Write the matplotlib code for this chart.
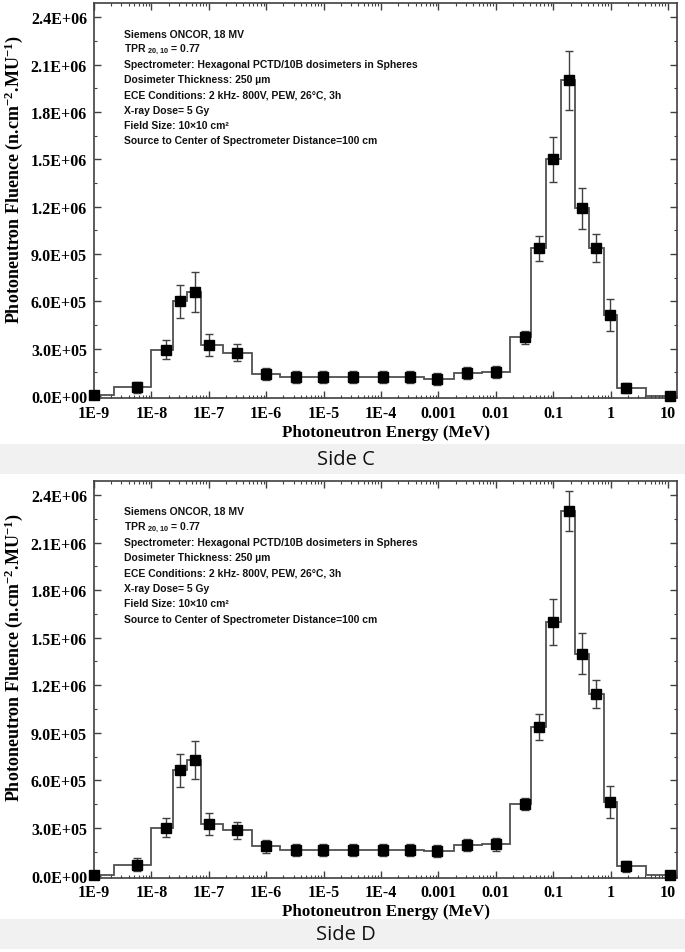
import numpy as np
import matplotlib
matplotlib.use("Agg")
import matplotlib.pyplot as plt
from matplotlib.ticker import FixedLocator, LogLocator, NullFormatter, FuncFormatter
from matplotlib.patches import Rectangle

plt.rcParams['mathtext.default'] = 'regular'

# ---- data ----
bin_edges = [1.0e-9, 2.26e-9, 1.0e-8, 2.35e-8, 4.12e-8, 7.4e-8, 1.75e-7, 5.6e-7, 1.74e-6,
             5.6e-6, 1.75e-5, 5.6e-5, 1.75e-4, 5.6e-4, 1.87e-3, 5.75e-3, 0.0177, 0.0415,
             0.075, 0.135, 0.239, 0.426, 0.767, 1.29, 4.2, 20.0]
marker_energy = [1.0e-9, 5.7e-9, 1.8e-8, 3.15e-8, 5.7e-8, 1.0e-7, 3.1e-7, 9.8e-7, 3.3e-6,
                 9.9e-6, 3.2e-5, 1.07e-4, 3.2e-4, 9.6e-4, 3.1e-3, 0.0101, 0.0326, 0.0558,
                 0.1, 0.186, 0.321, 0.557, 0.98, 1.83, 10.8]

fluence_c = [5e3, 5.5e4, 2.95e5, 6.0e5, 6.6e5, 3.25e5, 2.75e5, 1.40e5, 1.18e5, 1.18e5,
             1.18e5, 1.18e5, 1.18e5, 1.08e5, 1.45e5, 1.52e5, 3.72e5, 9.35e5, 1.50e6, 2.00e6,
             1.19e6, 9.38e5, 5.15e5, 5.0e4, 2e3]
error_c = [1e4, 3.7e4, 6.3e4, 1.05e5, 1.25e5, 7.1e4, 5.3e4, 3.9e4, 3.8e4, 3.8e4,
           3.8e4, 3.8e4, 3.8e4, 3.7e4, 3.9e4, 4.0e4, 3.9e4, 8.0e4, 1.43e5, 1.88e5,
           1.30e5, 8.6e4, 1.02e5, 3.0e4, 0]

fluence_d = [5e3, 6.8e4, 3.03e5, 6.64e5, 7.27e5, 3.25e5, 2.85e5, 1.85e5, 1.60e5, 1.60e5,
             1.60e5, 1.60e5, 1.60e5, 1.54e5, 1.92e5, 1.98e5, 4.50e5, 9.38e5, 1.60e6, 2.30e6,
             1.40e6, 1.145e6, 4.63e5, 5.8e4, 2e3]
error_d = [1e4, 4.0e4, 6.2e4, 1.04e5, 1.21e5, 7.1e4, 5.4e4, 4.0e4, 3.9e4, 3.9e4,
           3.9e4, 3.9e4, 3.9e4, 3.9e4, 4.0e4, 4.0e4, 3.8e4, 8.0e4, 1.44e5, 1.26e5,
           1.30e5, 8.7e4, 1.02e5, 3.6e4, 0]

x_ticks = [1e-9, 1e-8, 1e-7, 1e-6, 1e-5, 1e-4, 1e-3, 1e-2, 1e-1, 1, 10]
x_tick_labels = ["1E-9", "1E-8", "1E-7", "1E-6", "1E-5", "1E-4", "0.001", "0.01", "0.1", "1", "10"]
y_ticks = [0, 3e5, 6e5, 9e5, 1.2e6, 1.5e6, 1.8e6, 2.1e6, 2.4e6]

info_lines = [
    "Siemens ONCOR, 18 MV",
    "TPR $_{20,10}$ = 0.77",
    "Spectrometer: Hexagonal PCTD/10B dosimeters in Spheres",
    "Dosimeter Thickness: 250 \u00b5m",
    "ECE Conditions: 2 kHz- 800V, PEW, 26\u00b0C, 3h",
    "X-ray Dose= 5 Gy",
    "Field Size: 10\u00d710 cm\u00b2",
    "Source to Center of Spectrometer Distance=100 cm",
]
side_labels = ["Side C", "Side D"]

W, H = 685, 953
fig = plt.figure(figsize=(W / 100, H / 100), dpi=100)
fig.patch.set_facecolor("white")

serif = "Liberation Serif"
sans = "Liberation Sans"

def px_rect(l, t, r, b):
    return [l / W, (H - b) / H, (r - l) / W, (b - t) / H]

axes_boxes = [px_rect(94, 4, 677.3, 399), px_rect(94, 481.7, 677.3, 878.5)]
bands = [(445, 475), (920, 950)]

for ax_box, fl, er, band, lab in zip(axes_boxes, [fluence_c, fluence_d], [error_c, error_d], bands, side_labels):
    t, b = band
    fig.patches.append(Rectangle((0, (H - b) / H), 1, (b - t) / H, transform=fig.transFigure,
                                 facecolor="#f1f1f1", edgecolor="none", zorder=-5))

    ax = fig.add_axes(ax_box)
    ax.set_xscale("log")
    ax.stairs(fl, bin_edges, color="#505050", linewidth=1.3, baseline=None)
    ax.errorbar(marker_energy, fl, yerr=er, fmt="s", color="black", markersize=6.5,
                ecolor="#404040", elinewidth=1.0, capsize=3, capthick=1.0, clip_on=False, zorder=3)
    ax.set_xlim(1e-9, 14.5)
    ax.set_ylim(-1.2e4, 2.49e6)

    ax.xaxis.set_major_locator(FixedLocator(x_ticks))
    ax.set_xticklabels(x_tick_labels)
    ax.xaxis.set_minor_locator(LogLocator(base=10, subs=np.arange(2, 10), numticks=30))
    ax.xaxis.set_minor_formatter(NullFormatter())
    ax.yaxis.set_major_locator(FixedLocator(y_ticks))
    ax.yaxis.set_minor_locator(FixedLocator([v + 1.5e5 for v in y_ticks]))
    ax.yaxis.set_major_formatter(FuncFormatter(lambda v, p: f"{v:.1E}"))

    ax.tick_params(which="both", direction="in", top=True, right=True, color="#404040")
    ax.tick_params(which="major", length=5, width=1.0, pad=5)
    ax.tick_params(which="minor", length=2.5, width=0.8)
    for tl in ax.get_xticklabels() + ax.get_yticklabels():
        tl.set_fontfamily(serif)
        tl.set_fontweight("bold")
        tl.set_fontsize(11.5)
    for s in ax.spines.values():
        s.set_color("#404040")
        s.set_linewidth(1.2)

    ax.set_xlabel("Photoneutron Energy (MeV)", fontfamily=serif, fontweight="bold",
                  fontsize=12.2, labelpad=2)
    ax.set_ylabel("Photoneutron Fluence (n.cm$^{-2}$.MU$^{-1}$)", fontfamily=serif,
                  fontweight="bold", fontsize=13)
    ax.yaxis.set_label_coords(-0.118, 0.555)

    y0 = 0.924
    for i, line in enumerate(info_lines):
        ax.text(0.051, y0 - i * 0.0388, line, transform=ax.transAxes, fontfamily=sans,
                fontweight="bold", fontsize=7.45, va="center", ha="left", color="#111111")

    fig.text(346 / W, (H - (t + b) / 2) / H, lab, fontfamily="Open Sans", fontsize=14.5,
             ha="center", va="center", color="#111111")

fig.savefig("out.png", dpi=100)
